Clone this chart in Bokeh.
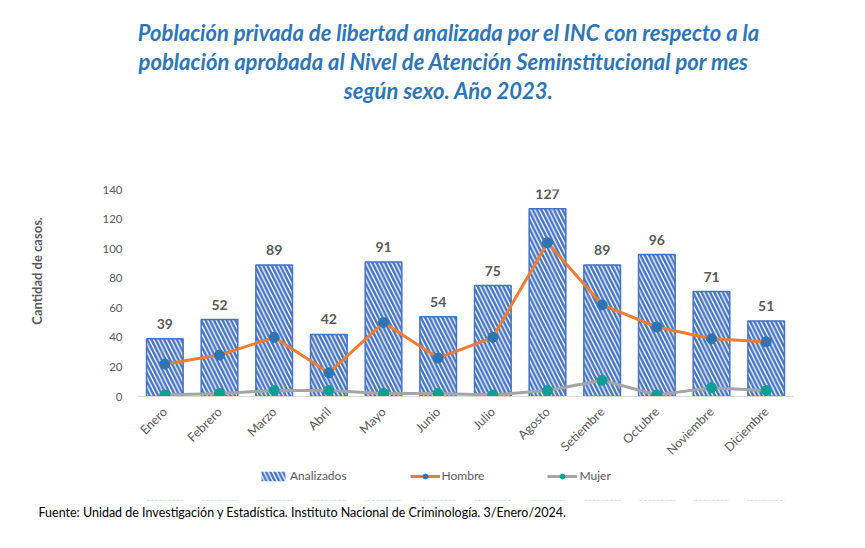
from bokeh.plotting import figure
from bokeh.layouts import column
from bokeh.models import (Range1d, FactorRange, Legend, LegendItem, Title,
                          ColumnDataSource, LabelSet)
from bokeh.core.properties import value
from bokeh.embed import file_html
from bokeh.resources import INLINE
import math

meses = ["Enero", "Febrero", "Marzo", "Abril", "Mayo", "Junio", "Julio",
         "Agosto", "Setiembre", "Octubre", "Noviembre", "Diciembre"]
analizados = [39, 52, 89, 42, 91, 54, 75, 127, 89, 96, 71, 51]
hombre = [22, 28, 40, 16, 50, 26, 40, 104, 62, 47, 39, 37]
mujer = [1, 2, 4, 4, 2, 2, 1, 4, 11, 1, 6, 4]
y_ticks = [0, 20, 40, 60, 80, 100, 120, 140]
series = ["Analizados", "Hombre", "Mujer"]

titulo = ["Población privada de libertad analizada por el INC con respecto a la",
          "población aprobada  al Nivel de Atención Seminstitucional  por mes",
          "según sexo. Año 2023."]
fuente = "Fuente: Unidad de Investigación y Estadística. Instituto Nacional de Criminología. 3/Enero/2024."
eje_y = "Cantidad de casos."

FONT = "Lato"
GRAY = "#595959"
NB = "\u00a0"
W = 857

BAR = dict(fill_color="white", line_color="#4472C4", line_width=1.5,
           hatch_pattern="left_diagonal_line", hatch_color="#4472C4",
           hatch_scale=8.5, hatch_weight=2.5)
H_LINE = dict(line_color="#ED7D31", line_width=3)
H_DOT = dict(fill_color="#2E75B6", line_color="#2E75B6")
M_LINE = dict(line_color="#A5A5A5", line_width=3)
M_DOT = dict(fill_color="#0E9F96", line_color="#0E9F96")

src = ColumnDataSource(dict(mes=meses, analizados=analizados,
                            hombre=hombre, mujer=mujer,
                            lbl=[str(v) for v in analizados]))

# ---------------- main chart ----------------
p = figure(x_range=FactorRange(*meses), y_range=Range1d(0, 140),
           width=W, height=465,
           min_border_left=137, min_border_right=64,
           min_border_top=189, min_border_bottom=68,
           output_backend="svg", toolbar_location=None,
           background_fill_color="white", border_fill_color="white")
p.outline_line_color = None
p.xgrid.grid_line_color = None
p.ygrid.grid_line_color = None
p.x_range.range_padding = 0

p.vbar(x="mes", top="analizados", width=0.67, source=src, **BAR)
p.line(x="mes", y="hombre", source=src, **H_LINE)
p.scatter(x="mes", y="hombre", source=src, size=10, **H_DOT)
p.line(x="mes", y="mujer", source=src, **M_LINE)
p.scatter(x="mes", y="mujer", source=src, size=10, **M_DOT)

p.add_layout(LabelSet(x="mes", y="analizados", text="lbl", source=src,
                      y_offset=15, text_align="center", text_baseline="middle",
                      text_font=value(FONT), text_font_size=value("14px"),
                      text_font_style="bold", text_color=GRAY))

p.yaxis.ticker = y_ticks
p.yaxis.axis_line_color = None
p.yaxis.major_tick_line_color = None
p.yaxis.minor_tick_line_color = None
p.yaxis.major_label_text_font = FONT
p.yaxis.major_label_text_font_size = "11.5px"
p.yaxis.major_label_text_color = GRAY
p.yaxis.major_label_standoff = 9
p.yaxis.axis_label = NB * 14 + eje_y
p.yaxis.axis_label_text_font = FONT
p.yaxis.axis_label_text_font_size = "13px"
p.yaxis.axis_label_text_font_style = "bold"
p.yaxis.axis_label_text_color = GRAY
p.yaxis.axis_label_standoff = 54

p.xaxis.axis_line_color = "#D9D9D9"
p.xaxis.axis_line_width = 1
p.xaxis.major_tick_line_color = None
p.xaxis.minor_tick_line_color = None
p.xaxis.major_label_orientation = math.pi / 4
p.xaxis.major_label_text_font = FONT
p.xaxis.major_label_text_font_size = "12.5px"
p.xaxis.major_label_text_color = GRAY
p.xaxis.major_label_standoff = 7

# spacer between the chart title and the plot
p.add_layout(Title(text=" ", text_font_size="75px", standoff=0), "above")
# chart title (nearest line first)
for t in reversed(titulo):
    p.add_layout(Title(text=t + NB * 7, align="center", text_font=FONT,
                       text_font_size="22px", text_font_style="bold italic",
                       text_color="#2E75B6", standoff=0), "above")

# ---------------- legend + source strip ----------------
# same series drawn outside this strip's visible y-range, only to feed the legend
q = figure(x_range=FactorRange(*meses), y_range=Range1d(1000, 1001),
           width=W, height=75,
           min_border_left=137, min_border_right=64,
           min_border_top=0, min_border_bottom=40,
           x_axis_location=None, y_axis_location=None,
           output_backend="svg", toolbar_location=None,
           background_fill_color="white", border_fill_color="white")
q.outline_line_color = None
q.grid.visible = False
q.x_range.range_padding = 0
BAR_LEG = dict(BAR, line_alpha=0)
rb = q.vbar(x="mes", top="analizados", bottom="analizados", width=0.67,
            source=src, **BAR_LEG)
rhl = q.line(x="mes", y="hombre", source=src, **H_LINE)
rhd = q.scatter(x="mes", y="hombre", source=src, size=10, **H_DOT)
rml = q.line(x="mes", y="mujer", source=src, **M_LINE)
rmd = q.scatter(x="mes", y="mujer", source=src, size=10, **M_DOT)

legend = Legend(items=[LegendItem(label=series[0], renderers=[rb]),
                       LegendItem(label=series[1], renderers=[rhl, rhd]),
                       LegendItem(label=series[2], renderers=[rml, rmd])],
                orientation="horizontal", location=(121, 17),
                glyph_width=30, glyph_height=12, label_standoff=2,
                spacing=63, padding=2, margin=0,
                label_text_font=FONT, label_text_font_size="12px",
                label_text_color=GRAY, label_height=14,
                border_line_color=None, background_fill_alpha=0)
q.add_layout(legend, "center")

q.add_layout(Title(text=fuente, align="left", offset=-99, text_font=FONT,
                   text_font_size="12.5px", text_font_style="normal",
                   text_color="black", standoff=4), "below")

open("out.html", "w").write(file_html(column(p, q, spacing=0), INLINE))
